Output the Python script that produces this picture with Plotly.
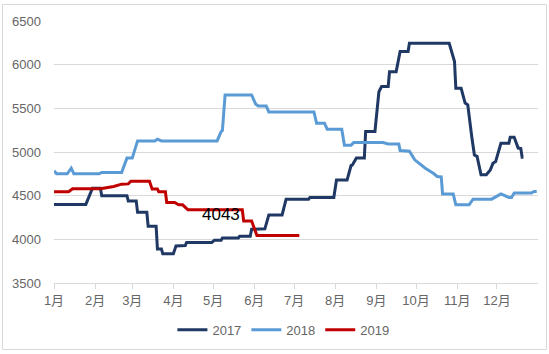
import pandas as pd
import plotly.graph_objects as go

# day-of-year offsets (from Jan 1) and prices
days_2017 = [0, 24, 29, 35, 36, 55, 56, 62, 63, 70, 71, 77, 78, 81, 82, 90, 92, 99, 100, 119,
             121, 126, 127, 139, 140, 148, 149, 159, 162, 172, 175, 192, 193, 211, 213, 221,
             224, 225, 228, 234, 235, 242, 245, 247, 252, 253, 258, 261, 267, 268, 298, 302,
             303, 307, 310, 312, 315, 317, 319, 322, 326, 329, 331, 333, 337, 343, 344, 347,
             350, 352, 353, 354]
vals_2017 = [4400, 4400, 4585, 4585, 4500, 4500, 4440, 4440, 4310, 4310, 4150, 4150, 3890, 3890,
             3835, 3835, 3925, 3930, 3965, 3965, 3990, 3990, 4015, 4015, 4035, 4035, 4115, 4120,
             4280, 4280, 4460, 4460, 4480, 4480, 4680, 4680, 4845, 4850, 4930, 4930, 5235, 5235,
             5690, 5750, 5750, 5920, 5920, 6150, 6150, 6245, 6245, 6035, 5730, 5730, 5560, 5540,
             5175, 4965, 4950, 4740, 4740, 4795, 4870, 4890, 5100, 5100, 5170, 5170, 5045, 5040,
             4940, 4940]

days_2018 = [0, 2, 10, 13, 15, 34, 36, 51, 55, 59, 63, 76, 78, 81, 123, 126, 127, 129, 149, 152,
             154, 160, 162, 196, 198, 204, 206, 217, 219, 224, 226, 248, 252, 260, 261, 268, 272,
             280, 286, 289, 292, 293, 301, 303, 313, 316, 330, 333, 337, 343, 345, 347, 360, 362,
             364]
vals_2018 = [4785, 4750, 4750, 4815, 4750, 4750, 4765, 4765, 4930, 4930, 5127, 5127, 5147, 5127,
             5127, 5233, 5245, 5653, 5653, 5550, 5528, 5528, 5459, 5459, 5330, 5330, 5261, 5261,
             5078, 5078, 5108, 5108, 5093, 5093, 5016, 5010, 4910, 4815, 4757, 4720, 4715, 4520,
             4520, 4395, 4395, 4460, 4460, 4490, 4520, 4480, 4480, 4530, 4530, 4547, 4547]

days_2019 = [0, 11, 14, 35, 45, 51, 56, 58, 72, 74, 78, 79, 84, 85, 91, 94, 97, 101, 142, 143,
             149, 153, 185]
vals_2019 = [4544, 4544, 4578, 4578, 4605, 4632, 4635, 4665, 4665, 4575, 4575, 4544, 4544, 4422,
             4422, 4395, 4395, 4338, 4338, 4210, 4210, 4043, 4043]

series_names = ["2017", "2018", "2019"]
series_colors = ["#1f3864", "#5b9bd5", "#c00000"]
annotation_text = "4043"
annotation_day = 126
annotation_value = 4281

base = pd.Timestamp("2019-01-01")


def to_dates(days):
    return base + pd.to_timedelta(days, unit="D")


fig = go.Figure()
for name, d, v, c in zip(series_names, [days_2017, days_2018, days_2019],
                         [vals_2017, vals_2018, vals_2019], series_colors):
    fig.add_trace(go.Scatter(x=to_dates(d), y=v, mode="lines", name=name,
                             line=dict(color=c, width=3)))

font_family = "Liberation Sans, Noto Sans CJK SC, sans-serif"

fig.add_annotation(x=base + pd.Timedelta(days=annotation_day), y=annotation_value,
                   text=annotation_text, showarrow=False,
                   font=dict(size=17, color="#000000", family=font_family))

fig.update_layout(
    width=549, height=354,
    margin=dict(l=54, r=11, t=21, b=71, autoexpand=False),
    paper_bgcolor="white", plot_bgcolor="white",
    font=dict(family=font_family, size=13, color="#666666"),
    showlegend=True,
    legend=dict(orientation="h", x=0.474, xanchor="center", y=-0.179, yanchor="middle",
                font=dict(size=13, color="#666666"), itemwidth=30),
    shapes=[dict(type="rect", xref="paper", yref="paper", x0=-0.1064, x1=1.0176,
                 y0=-0.2538, y1=1.063, line=dict(color="#d9d9d9", width=1),
                 fillcolor="rgba(0,0,0,0)", layer="below")],
)

fig.update_xaxes(
    type="date",
    range=[base, base + pd.Timedelta(days=364, hours=23)],
    tick0=base, dtick="M1", tickformat="%-m月",
    showgrid=False, showline=True, linecolor="#d9d9d9", linewidth=1,
    ticks="outside", ticklen=5, tickcolor="#d9d9d9",
    tickfont=dict(size=13, color="#666666"),
    zeroline=False, automargin=False,
)
fig.update_yaxes(
    range=[3500, 6500], dtick=500, tick0=3500,
    showgrid=True, gridcolor="#d9d9d9", gridwidth=1,
    showline=False, zeroline=False, ticks="",
    ticklabelstandoff=12, automargin=False,
    tickfont=dict(size=13, color="#666666"),
)

fig.write_html("out.html")
